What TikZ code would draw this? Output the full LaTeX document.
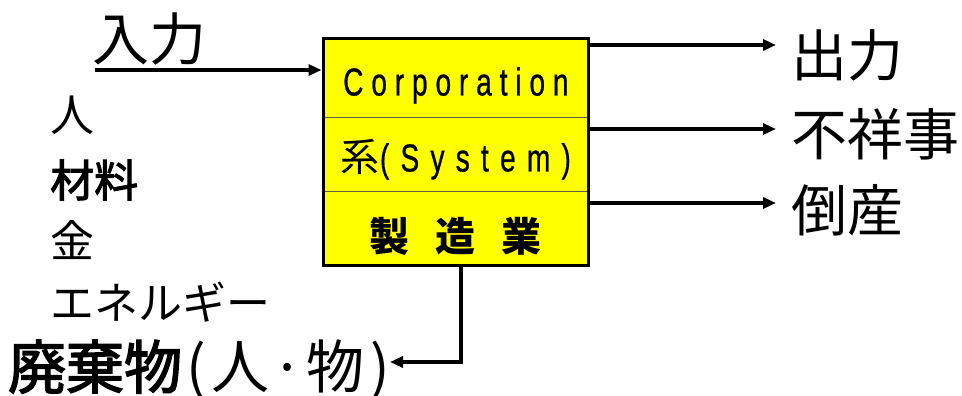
\documentclass[tikz,border=0pt]{standalone}
\usepackage{fontspec}
\setmainfont{Noto Sans CJK JP}
\newfontfamily\latinf{Liberation Sans}
\usetikzlibrary{arrows.meta,fit}
\definecolor{boxyellow}{RGB}{255,255,0}
\tikzset{
  arr/.style={line width=3.5pt,-{Triangle[length=13pt,width=11pt]}},
  cell/.style={fill=boxyellow,draw=black!70!yellow,line width=0.8pt,minimum width=265pt,inner sep=0pt,anchor=north west},
  lab/.style={inner sep=0pt,anchor=west},
}
\newcommand{\spaced}[2]{{\latinf\addfontfeature{LetterSpace=#1,FakeBold=0.8}\scalebox{0.72}[1]{#2}}}
\newcommand{\semibold}{\addfontfeature{FakeBold=2.5}}
\begin{document}
\begin{tikzpicture}[x=1pt,y=-1pt]
\useasboundingbox (0,0) rectangle (962,396);
% box cells
\node[cell,minimum height=78pt] (c1) at (323,39) {};
\node[cell,minimum height=74pt] (c2) at (323,117) {};
\node[cell,minimum height=74pt] (c3) at (323,191) {};
\node[draw,line width=3pt,inner sep=0pt,fit=(c1)(c3)] (box) {};
\node[inner sep=0pt] (t1) at ([yshift=-7pt]c1.center) {\fontsize{39}{39}\selectfont\spaced{28}{Corporation}};
\node[inner sep=0pt] (t2) at ([yshift=-5pt]c2.center) {\fontsize{39}{39}\selectfont 系\spaced{40}{(System)}};
\node[inner sep=0pt] (t3) at ([yshift=-8pt]c3.center) {\fontsize{40}{40}\selectfont\bfseries 製\hspace{26pt}造\hspace{26pt}業};
% input
\node[lab,anchor=south west] (inl) at (92,65) {\fontsize{57}{57}\selectfont 入力};
\coordinate (instart) at (95,70);
\draw[arr] (instart) -- (box.west |- instart);
\node[lab] (i1) at (50,115) {\fontsize{44}{44}\selectfont 人};
\node[lab] (i2) at (50,180) {\fontsize{44}{44}\selectfont\semibold 材料};
\node[lab] (i3) at (50,240) {\fontsize{44}{44}\selectfont 金};
\node[lab] (i4) at (50,302) {\fontsize{44}{44}\selectfont エネルギー};
% outputs
\node[lab] (o1) at (791,55) {\fontsize{56}{56}\selectfont 出力};
\node[lab] (o2) at (791,134) {\fontsize{56}{56}\selectfont 不祥事};
\node[lab] (o3) at (791,210) {\fontsize{56}{56}\selectfont 倒産};
\coordinate (a1) at (588,45);
\coordinate (a2) at (588,129);
\coordinate (a3) at (588,203);
\draw[arr] (a1) -- (776,45);
\draw[arr] (a2) -- (776,129);
\draw[arr] (a3) -- (776,203);
% waste
\node[lab,anchor=east] (w) at (390,370) {\fontsize{58}{58}\selectfont{\semibold 廃棄物}\hspace{4pt}(\hspace{6pt}人\hspace{2pt}·\hspace{2pt}物\hspace{6pt})};
\coordinate (wb) at (461,362);
\draw[arr] (box.south -| wb) -- (wb) -- (w.east |- wb);
\end{tikzpicture}
\end{document}
